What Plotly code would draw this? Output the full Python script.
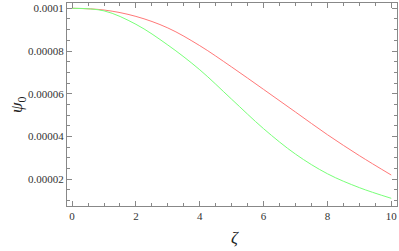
import plotly.graph_objects as go

zeta = [0, 1, 2, 3, 4, 5, 6, 7, 8, 9, 10]
psi_red = [10.0e-5, 9.92e-5, 9.62e-5, 9.08e-5, 8.25e-5, 7.25e-5, 6.20e-5, 5.14e-5, 4.08e-5, 3.10e-5, 2.19e-5]
psi_green = [10.0e-5, 9.88e-5, 9.25e-5, 8.28e-5, 7.12e-5, 5.74e-5, 4.36e-5, 3.17e-5, 2.25e-5, 1.60e-5, 1.10e-5]

x_ticks = [0, 2, 4, 6, 8, 10]
x_tick_labels = ["0", "2", "4", "6", "8", "10"]
y_ticks = [2e-5, 4e-5, 6e-5, 8e-5, 1e-4]
y_tick_labels = ["0.00002", "0.00004", "0.00006", "0.00008", "0.0001"]

font = "'Liberation Serif', 'Times New Roman', serif"
frame = "#888888"

fig = go.Figure()
fig.add_trace(go.Scatter(x=zeta, y=psi_red, mode="lines",
                         line=dict(color="rgb(255,120,120)", width=1, shape="spline", smoothing=1.0)))
fig.add_trace(go.Scatter(x=zeta, y=psi_green, mode="lines",
                         line=dict(color="rgb(120,255,120)", width=1, shape="spline", smoothing=1.0)))

axis_common = dict(showline=True, linecolor=frame, linewidth=1, mirror="allticks",
                   ticks="inside", ticklen=5, tickcolor=frame, tickwidth=1,
                   showgrid=False, zeroline=False,
                   tickfont=dict(family=font, size=11, color="#333333"))

fig.update_xaxes(range=[-0.16, 10.18], tickvals=x_ticks, ticktext=x_tick_labels,
                 minor=dict(ticks="inside", ticklen=3, dtick=0.5, tick0=0, tickcolor=frame, showgrid=False),
                 **axis_common)
fig.update_yaxes(range=[0.74e-5, 1.0248e-4], tickvals=y_ticks, ticktext=y_tick_labels,
                 minor=dict(ticks="inside", ticklen=3, dtick=5e-6, tick0=0, tickcolor=frame, showgrid=False),
                 **axis_common)

fig.add_annotation(text="<i>ψ</i><sub>0</sub>", xref="paper", yref="paper", x=-0.15, y=0.5,
                   xanchor="center", yanchor="middle",
                   showarrow=False, textangle=-90, font=dict(family=font, size=17, color="#222222"))
fig.add_annotation(text="<i>ζ</i>", xref="paper", yref="paper", x=0.51, y=-0.155,
                   xanchor="center", yanchor="middle",
                   showarrow=False, font=dict(family=font, size=17, color="#222222"))

fig.update_layout(width=399, height=251, margin=dict(l=67, r=2, t=3, b=45),
                  font=dict(family=font, size=11, color="#333333"),
                  showlegend=False, plot_bgcolor="white", paper_bgcolor="white")

fig.write_html("out.html", config={"displayModeBar": False},
               post_script="document.body.style.margin='0';document.body.style.overflow='hidden';")
